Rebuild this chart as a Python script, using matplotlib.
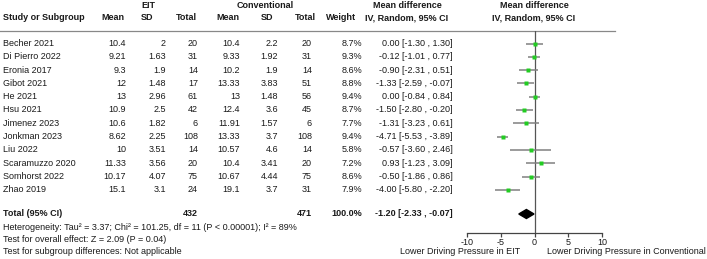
import numpy as np
import matplotlib
matplotlib.use("Agg")
from matplotlib import pyplot as plt

plt.rcParams['font.family'] = ['Liberation Sans', 'DejaVu Sans']

# study data
studies = ['Becher 2021', 'Di Pierro 2022', 'Eronia 2017', 'Gibot 2021', 'He 2021', 'Hsu 2021',
           'Jimenez 2023', 'Jonkman 2023', 'Liu 2022', 'Scaramuzzo 2020', 'Somhorst 2022', 'Zhao 2019']
eit_mean = ['10.4', '9.21', '9.3', '12', '13', '10.9', '10.6', '8.62', '10', '11.33', '10.17', '15.1']
eit_sd = ['2', '1.63', '1.9', '1.48', '2.96', '2.5', '1.82', '2.25', '3.51', '3.56', '4.07', '3.1']
eit_n = [20, 31, 14, 17, 61, 42, 6, 108, 14, 20, 75, 24]
conv_mean = ['10.4', '9.33', '10.2', '13.33', '13', '12.4', '11.91', '13.33', '10.57', '10.4', '10.67', '19.1']
conv_sd = ['2.2', '1.92', '1.9', '3.83', '1.48', '3.6', '1.57', '3.7', '4.6', '3.41', '4.44', '3.7']
conv_n = [20, 31, 14, 51, 56, 45, 6, 108, 14, 20, 75, 31]
weight = [8.7, 9.3, 8.6, 8.8, 9.4, 8.7, 7.7, 9.4, 5.8, 7.2, 8.6, 7.9]
md = [0.00, -0.12, -0.90, -1.33, 0.00, -1.50, -1.31, -4.71, -0.57, 0.93, -0.50, -4.00]
lo = [-1.30, -1.01, -2.31, -2.59, -0.84, -2.80, -3.23, -5.53, -3.60, -1.23, -1.86, -5.80]
hi = [1.30, 0.77, 0.51, -0.07, 0.84, -0.20, 0.61, -3.89, 2.46, 3.09, 0.86, -2.20]

total_md, total_lo, total_hi = -1.20, -2.33, -0.07
xticks = [-10, -5, 0, 5, 10]

W, H = 707, 259
fs = 6.5
txt = '#1a1a1a'

fig = plt.figure(figsize=(W / 100, H / 100), dpi=100)

# full-figure axes for the table, in pixel coordinates
tab = fig.add_axes([0, 0, 1, 1])
tab.set_xlim(0, W)
tab.set_ylim(H, 0)
tab.axis('off')

row_y = 43.5 + 13.3 * np.arange(len(studies))
total_y = 214

def t(x, y, s, ha='left', bold=False):
    tab.text(x, y, s, ha=ha, va='center', fontsize=fs, color=txt,
             fontweight='bold' if bold else 'normal')

# headers
t(148, 5, 'EIT', 'center', True)
t(265, 5, 'Conventional', 'center', True)
t(407, 5, 'Mean difference', 'center', True)
t(534, 5, 'Mean difference', 'center', True)
t(3, 18, 'Study or Subgroup', bold=True)
for x, s in [(113, 'Mean'), (147, 'SD'), (186, 'Total'), (228, 'Mean'), (267, 'SD'),
             (305, 'Total'), (341, 'Weight'), (407, 'IV, Random, 95% CI'), (534, 'IV, Random, 95% CI')]:
    t(x, 18, s, 'center', True)
tab.plot([0, 615], [31, 31], color='#888888', lw=0.9)

# rows
for i, y in enumerate(row_y):
    t(3, y, studies[i])
    t(126, y, eit_mean[i], 'right')
    t(166, y, eit_sd[i], 'right')
    t(198, y, str(eit_n[i]), 'right')
    t(240, y, conv_mean[i], 'right')
    t(278, y, conv_sd[i], 'right')
    t(312, y, str(conv_n[i]), 'right')
    t(362, y, '{:.1f}%'.format(weight[i]), 'right')
    t(453, y, '{:.2f} [{:.2f} , {:.2f}]'.format(md[i], lo[i], hi[i]), 'right')

# total row
t(3, total_y, 'Total (95% CI)', bold=True)
t(198, total_y, str(sum(eit_n)), 'right', True)
t(312, total_y, str(sum(conv_n)), 'right', True)
t(362, total_y, '100.0%', 'right', True)
t(453, total_y, '{:.2f} [{:.2f} , {:.2f}]'.format(total_md, total_lo, total_hi), 'right', True)

t(3, 227, 'Heterogeneity: Tau² = 3.37; Chi² = 101.25, df = 11 (P < 0.00001); I² = 89%')
t(3, 239, 'Test for overall effect: Z = 2.09 (P = 0.04)')
t(3, 252, 'Test for subgroup differences: Not applicable')

t(460, 252, 'Lower Driving Pressure in EIT', 'center')
t(626, 252, 'Lower Driving Pressure in Conventional', 'center')

# forest plot axes
left, right, top, bottom = 467, 602, 31, 233
ax = fig.add_axes([left / W, (H - bottom) / H, (right - left) / W, (bottom - top) / H])
ax.set_xlim(-10, 10)
ax.set_ylim(bottom, top)
ax.patch.set_alpha(0)
for s in ['top', 'right', 'left']:
    ax.spines[s].set_visible(False)
ax.spines['bottom'].set_color('#444444')
ax.spines['bottom'].set_linewidth(0.9)
ax.set_yticks([])
ax.set_xticks(xticks)
ax.set_xticklabels([str(v) for v in xticks])
ax.tick_params(axis='x', length=3, width=0.9, color='#444444', labelsize=fs, labelcolor=txt, pad=0.8)
ax.axvline(0, color='#555555', lw=0.9)

ax.hlines(row_y, lo, hi, color='#808080', lw=1.1)
ax.plot(md, row_y, 's', color='#22cc22', ms=2.2, mec='none')

dh = 4.5
ax.fill([total_lo, total_md, total_hi, total_md], [total_y, total_y - dh, total_y, total_y + dh],
        color='black')

fig.savefig('out.png', dpi=100)
